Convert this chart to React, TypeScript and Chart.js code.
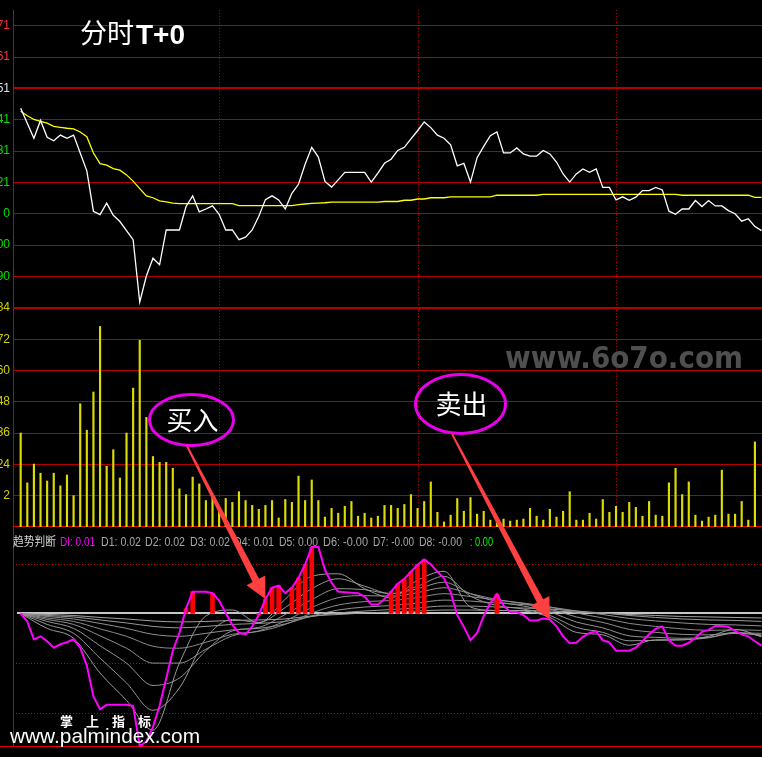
import React, { useEffect, useRef } from 'react';
import { Chart, registerables } from 'chart.js';

Chart.register(...registerables);

// ---------- axis labels ----------
const priceTicks = [7.71, 7.61, 7.51, 7.41, 7.31, 7.21, 7.11, 7.01, 6.91];
const priceTickLabels = ['71', '61', '51', '41', '31', '21', '0', '00', '90'];
const priceTickColors = ['#ff3232', '#ff3232', '#e0e0e0', '#00e000', '#00e000', '#00e000', '#00e000', '#00e000', '#00e000'];
const prevClose = 7.51;
const volumeTicks = [84, 72, 60, 48, 36, 24, 12];
const volumeTickLabels = ['84', '72', '60', '48', '36', '24', '2'];
const diGridLevels = [0.1, -0.1, -0.2];
const hourMarks = [30, 60, 90];

// ---------- price panel (one point per 2-minute step) ----------
const price = [
  7.447, 7.399, 7.351, 7.408, 7.354, 7.343, 7.361, 7.351, 7.361, 7.304,
  7.247, 7.118, 7.107, 7.144, 7.105, 7.085, 7.056, 7.027, 6.828, 6.911,
  6.968, 6.947, 7.058, 7.058, 7.058, 7.133, 7.167, 7.116, 7.125, 7.135,
  7.108, 7.058, 7.058, 7.027, 7.035, 7.058, 7.102, 7.155, 7.167, 7.154,
  7.125, 7.175, 7.204, 7.268, 7.322, 7.291, 7.213, 7.195, 7.218, 7.242,
  7.242, 7.242, 7.242, 7.211, 7.240, 7.271, 7.284, 7.312, 7.322, 7.349,
  7.375, 7.403, 7.385, 7.361, 7.351, 7.330, 7.263, 7.271, 7.211, 7.289,
  7.325, 7.359, 7.371, 7.304, 7.304, 7.320, 7.301, 7.294, 7.294, 7.312,
  7.301, 7.275, 7.237, 7.211, 7.237, 7.253, 7.242, 7.253, 7.194, 7.194,
  7.154, 7.164, 7.153, 7.163, 7.184, 7.184, 7.194, 7.186, 7.118, 7.108,
  7.125, 7.125, 7.152, 7.133, 7.152, 7.135, 7.135, 7.120, 7.110, 7.086,
  7.094, 7.069, 7.056,
];
const avgPrice = [
  7.437, 7.423, 7.411, 7.405, 7.399, 7.389, 7.386, 7.383, 7.381, 7.371,
  7.356, 7.304, 7.270, 7.265, 7.254, 7.249, 7.234, 7.214, 7.190, 7.167,
  7.161, 7.151, 7.148, 7.144, 7.142, 7.142, 7.142, 7.142, 7.142, 7.142,
  7.142, 7.142, 7.142, 7.136, 7.136, 7.136, 7.136, 7.136, 7.136, 7.136,
  7.136, 7.136, 7.139, 7.141, 7.143, 7.144, 7.145, 7.147, 7.147, 7.147,
  7.147, 7.147, 7.147, 7.147, 7.147, 7.149, 7.149, 7.149, 7.153, 7.153,
  7.157, 7.157, 7.161, 7.161, 7.161, 7.164, 7.164, 7.164, 7.164, 7.164,
  7.164, 7.164, 7.169, 7.169, 7.169, 7.169, 7.169, 7.169, 7.169, 7.172,
  7.172, 7.172, 7.172, 7.172, 7.172, 7.172, 7.172, 7.172, 7.172, 7.172,
  7.172, 7.172, 7.172, 7.172, 7.172, 7.172, 7.172, 7.172, 7.172, 7.172,
  7.169, 7.169, 7.169, 7.169, 7.169, 7.169, 7.169, 7.169, 7.169, 7.169,
  7.169, 7.162, 7.162,
];

// ---------- volume panel ----------
const volume = [
  36, 16.9, 24.1, 20.6, 17.6, 20.6, 15.75, 19.9, 12, 47.25,
  37.1, 51.75, 76.9, 23.25, 29.6, 18.75, 36, 53.25, 71.6, 42,
  27, 24.75, 24.75, 22.5, 14.6, 12.4, 19.1, 16.5, 10.1, 11.6,
  7.1, 10.9, 9.4, 13.5, 10.1, 8.25, 6.75, 8.25, 10.1, 3.4,
  10.5, 9.4, 19.5, 10.1, 18, 10.1, 3.75, 7.1, 5.25, 7.9,
  9.75, 4.1, 5.25, 3.4, 4.1, 8.25, 8.25, 7.1, 8.6, 12.4,
  7.1, 9.75, 17.25, 5.6, 1.9, 4.5, 10.9, 6, 11.25, 4.9,
  6, 2.6, 3.75, 3, 2.25, 2.6, 3, 7.1, 4.1, 2.6,
  6.75, 3.75, 6, 13.5, 2.6, 2.6, 5.25, 3, 10.5, 5.6,
  7.9, 5.6, 9.4, 7.5, 4.1, 9.75, 4.5, 4.1, 16.9, 22.5,
  12.4, 17.25, 4.5, 2.25, 3.75, 4.5, 21.75, 4.9, 4.9, 9.75,
  2.6, 32.6,
];

// ---------- trend indicator panel ----------
const di = [
  0, -0.016, -0.052, -0.046, -0.056, -0.069, -0.062, -0.058, -0.052, -0.069,
  -0.105, -0.167, -0.193, -0.184, -0.184, -0.184, -0.184, -0.186, -0.267, -0.258,
  -0.229, -0.186, -0.131, -0.075, -0.039, 0.010, 0.044, 0.044, 0.044, 0.041,
  0.026, 0.001, -0.023, -0.039, -0.042, -0.026, -0.003, 0.029, 0.052, 0.056,
  0.041, 0.052, 0.072, 0.099, 0.134, 0.134, 0.088, 0.062, 0.044, 0.043,
  0.042, 0.041, 0.034, 0.018, 0.018, 0.029, 0.044, 0.060, 0.070, 0.084,
  0.098, 0.109, 0.099, 0.084, 0.071, 0.043, -0.003, -0.027, -0.054, -0.039,
  -0.005, 0.021, 0.039, 0.016, 0.003, 0.003, -0.003, -0.014, -0.014, -0.010,
  -0.012, -0.026, -0.046, -0.060, -0.059, -0.047, -0.039, -0.036, -0.054, -0.058,
  -0.075, -0.075, -0.075, -0.069, -0.056, -0.042, -0.031, -0.026, -0.054, -0.065,
  -0.065, -0.059, -0.049, -0.037, -0.033, -0.025, -0.025, -0.027, -0.035, -0.042,
  -0.046, -0.056, -0.065,
];
const signalIndex = [25, 26, 29, 36, 37, 38, 39, 41, 42, 43, 44, 56, 57, 58, 59, 60, 61, 72];

const dSampleIndex = [0, 4, 8, 12, 16, 20, 24, 28, 32, 36, 40, 44, 48, 52, 56, 60, 64, 68, 72, 76, 80, 84, 88, 92, 96, 100, 104, 108, 112];
const d1 = [0, -0.03, -0.05, -0.12, -0.175, -0.235, -0.1, -0.005, 0.007, -0.019, 0.029, 0.075, 0.08, 0.05, 0.032, 0.067, 0.085, 0.013, 0.006, 0.005, -0.008, -0.038, -0.043, -0.064, -0.053, -0.053, -0.046, -0.032, -0.047];
const d2 = [0, -0.022, -0.04, -0.09, -0.14, -0.195, -0.15, -0.05, -0.012, -0.018, 0.012, 0.05, 0.07, 0.055, 0.04, 0.055, 0.075, 0.035, 0.016, 0.009, -0.004, -0.028, -0.038, -0.055, -0.054, -0.053, -0.049, -0.038, -0.045];
const d3 = [0, -0.016, -0.03, -0.065, -0.1, -0.145, -0.13, -0.075, -0.035, -0.028, -0.002, 0.028, 0.05, 0.048, 0.04, 0.05, 0.063, 0.04, 0.024, 0.015, 0.003, -0.017, -0.029, -0.045, -0.048, -0.05, -0.048, -0.04, -0.043];
const d4 = [0, -0.012, -0.022, -0.045, -0.07, -0.1, -0.1, -0.072, -0.045, -0.035, -0.015, 0.012, 0.032, 0.036, 0.035, 0.042, 0.052, 0.04, 0.028, 0.02, 0.009, -0.007, -0.018, -0.032, -0.038, -0.042, -0.043, -0.039, -0.04];
const d5 = [0, -0.009, -0.016, -0.031, -0.046, -0.066, -0.07, -0.058, -0.042, -0.036, -0.022, 0.001, 0.017, 0.024, 0.026, 0.032, 0.04, 0.034, 0.027, 0.021, 0.013, 0.001, -0.009, -0.02, -0.026, -0.031, -0.034, -0.033, -0.034];
const d6 = [0, -0.006, -0.011, -0.02, -0.03, -0.042, -0.046, -0.04, -0.033, -0.03, -0.021, -0.005, 0.007, 0.013, 0.016, 0.021, 0.027, 0.025, 0.021, 0.018, 0.013, 0.005, -0.002, -0.01, -0.015, -0.019, -0.022, -0.023, -0.025];
const d7 = [0, -0.004, -0.007, -0.013, -0.019, -0.026, -0.029, -0.026, -0.022, -0.02, -0.016, -0.006, 0.001, 0.005, 0.008, 0.011, 0.015, 0.015, 0.013, 0.011, 0.009, 0.005, 0.001, -0.004, -0.008, -0.011, -0.013, -0.014, -0.016];
const d8 = [0, -0.002, -0.004, -0.008, -0.011, -0.015, -0.017, -0.016, -0.014, -0.013, -0.011, -0.005, -0.002, 0.001, 0.003, 0.005, 0.007, 0.007, 0.006, 0.006, 0.005, 0.003, 0.001, -0.002, -0.004, -0.006, -0.007, -0.008, -0.009];
const dLines = [d1, d2, d3, d4, d5, d6, d7, d8];
const dColors = ['#9a9a9a', '#969696', '#929292', '#8e8e8e', '#8a8a8a', '#909090', '#989898', '#a0a0a0'];

// ---------- texts ----------
const titleCn = '分时';
const titleEn = 'T+0';
const watermark = 'www.6o7o.com';
const legendTexts = ['趋势判断', 'DI: 0.01', 'D1: 0.02', 'D2: 0.02', 'D3: 0.02', 'D4: 0.01', 'D5: 0.00', 'D6: -0.00', 'D7: -0.00', 'D8: -0.00', ': 0.00'];
const legendColors = ['#d8d8d8', '#ff00ff', '#a8a8a8', '#a8a8a8', '#a8a8a8', '#a8a8a8', '#a8a8a8', '#a8a8a8', '#a8a8a8', '#a8a8a8', '#00ff00'];
const legendX = [13, 60, 101, 145, 190, 234, 279, 323, 373, 419, 470];
const legendW = [43, 35, 40, 40, 40, 40, 39, 45, 41, 43, 23];
const brandChars = ['掌', '上', '指', '标'];
const brandUrl = 'www.palmindex.com';
// annotation callouts: label, ellipse centre / radii (px), index on the DI line the arrow points to
const callouts = [
  { label: '买入', cx: 191.5, cy: 420, rx: 42, ry: 25.5, tail: -4.5, pointIndex: 37 },
  { label: '卖出', cx: 460.5, cy: 404, rx: 45, ry: 29.5, tail: -8.5, pointIndex: 80 },
];

const X_MIN = -1.16;
const X_MAX = 112.07;

function drawArrow(ctx: CanvasRenderingContext2D, sx: number, sy: number, tx: number, ty: number) {
  const dx = tx - sx;
  const dy = ty - sy;
  const len = Math.hypot(dx, dy);
  const ux = dx / len;
  const uy = dy / len;
  const nx = -uy;
  const ny = ux;
  const headLen = 21;
  const headHalf = 10.5;
  const w0 = 0.9;
  const w1 = 3.6;
  const bx = tx - ux * headLen;
  const by = ty - uy * headLen;
  ctx.fillStyle = '#ff4040';
  ctx.beginPath();
  ctx.moveTo(sx + nx * w0, sy + ny * w0);
  ctx.lineTo(bx + nx * w1, by + ny * w1);
  ctx.lineTo(bx + nx * headHalf, by + ny * headHalf);
  ctx.lineTo(tx, ty);
  ctx.lineTo(bx - nx * headHalf, by - ny * headHalf);
  ctx.lineTo(bx - nx * w1, by - ny * w1);
  ctx.lineTo(sx - nx * w0, sy - ny * w0);
  ctx.closePath();
  ctx.fill();
}

const panelPlugin = {
  id: 'panels',
  beforeDatasetsDraw(chart: any) {
    const { ctx, chartArea, scales } = chart;
    const x = scales.x;
    const yP = scales.yP;
    const yV = scales.yV;
    const yD = scales.yD;
    ctx.save();
    ctx.lineWidth = 1;
    ctx.strokeStyle = '#c80000';
    ctx.setLineDash([1, 2]);
    hourMarks.forEach((m) => {
      const px = Math.round(x.getPixelForValue(m)) + 0.5;
      ctx.beginPath();
      ctx.moveTo(px, yP.top);
      ctx.lineTo(px, yV.bottom);
      ctx.stroke();
    });
    diGridLevels.forEach((v) => {
      const py = Math.round(yD.getPixelForValue(v)) + 0.5;
      ctx.beginPath();
      ctx.moveTo(chartArea.left, py);
      ctx.lineTo(chartArea.right, py);
      ctx.stroke();
    });
    ctx.setLineDash([]);
    ctx.strokeStyle = '#e00000';
    const sep = Math.round(yV.bottom) - 0.5;
    ctx.beginPath();
    ctx.moveTo(chartArea.left, sep);
    ctx.lineTo(chartArea.right, sep);
    ctx.stroke();
    const bot = Math.round(chartArea.bottom) - 0.5;
    ctx.beginPath();
    ctx.moveTo(0, bot);
    ctx.lineTo(chartArea.right, bot);
    ctx.stroke();
    const z = Math.round(yD.getPixelForValue(0));
    ctx.strokeStyle = '#c8c8c8';
    ctx.lineWidth = 2;
    ctx.beginPath();
    ctx.moveTo(chartArea.left + 4, z);
    ctx.lineTo(chartArea.right, z);
    ctx.stroke();
    ctx.restore();
  },
  afterDatasetsDraw(chart: any) {
    const { ctx, scales } = chart;
    const x = scales.x;
    const yD = scales.yD;
    ctx.save();
    // title
    ctx.fillStyle = '#ffffff';
    ctx.textBaseline = 'alphabetic';
    ctx.textAlign = 'left';
    ctx.font = '27px "Noto Sans CJK SC"';
    ctx.fillText(titleCn, 80, 43, 56);
    ctx.font = 'bold 28px "Liberation Sans"';
    ctx.fillText(titleEn, 136, 43.5, 53);
    // watermark
    ctx.fillStyle = '#4f4f4f';
    ctx.font = 'bold 30px "DejaVu Sans"';
    ctx.fillText(watermark, 505, 368, 238);
    // legend of indicator panel
    ctx.font = '12px "Liberation Sans", "Noto Sans CJK SC"';
    legendTexts.forEach((t, k) => {
      ctx.fillStyle = legendColors[k];
      ctx.fillText(t, legendX[k], 545.5, legendW[k]);
    });
    // callouts
    callouts.forEach((c) => {
      ctx.strokeStyle = '#e800e8';
      ctx.lineWidth = 3;
      ctx.beginPath();
      ctx.ellipse(c.cx, c.cy, c.rx, c.ry, 0, 0, Math.PI * 2);
      ctx.stroke();
      ctx.fillStyle = '#ffffff';
      ctx.font = '26px "Noto Sans CJK SC"';
      ctx.textAlign = 'center';
      ctx.textBaseline = 'middle';
      ctx.fillText(c.label, c.cx + 1, c.cy + 0.5);
      const tx = x.getPixelForValue(c.pointIndex);
      const ty = yD.getPixelForValue(di[c.pointIndex]);
      drawArrow(ctx, c.cx + c.tail, c.cy + c.ry + 0.5, tx, ty);
    });
    // bottom brand
    ctx.textAlign = 'left';
    ctx.textBaseline = 'middle';
    ctx.fillStyle = '#ffffff';
    ctx.font = 'bold 13px "Noto Sans CJK SC"';
    brandChars.forEach((ch, k) => {
      ctx.fillText(ch, 60 + k * 26, 721);
    });
    ctx.textBaseline = 'alphabetic';
    ctx.font = '21px "Liberation Sans"';
    ctx.fillText(brandUrl, 10, 743, 190);
    ctx.restore();
  },
};

const fixWidth = (scale: any) => {
  scale.width = 13;
};

export default function App() {
  const ref = useRef<HTMLCanvasElement>(null);
  useEffect(() => {
    const canvas = ref.current;
    if (!canvas) return;
    const pts = (arr: number[]) => arr.map((v, i) => ({ x: i, y: v }));
    const datasets: any[] = [
      {
        type: 'line', label: 'DI', data: pts(di), yAxisID: 'yD',
        borderColor: '#ff00ff', borderWidth: 2, pointRadius: 0, order: 1,
      },
      {
        type: 'bar', label: 'signal', data: signalIndex.map((i) => ({ x: i, y: di[i] })), yAxisID: 'yD',
        backgroundColor: '#ff0000', barThickness: 4, grouped: false, order: 2,
      },
      ...dLines.map((d, k) => ({
        type: 'line', label: 'D' + (k + 1), data: dSampleIndex.map((i, j) => ({ x: i, y: d[j] })), yAxisID: 'yD',
        borderColor: dColors[k], borderWidth: 1, pointRadius: 0, cubicInterpolationMode: 'monotone', order: 3,
      })),
      {
        type: 'line', label: 'price', data: pts(price), yAxisID: 'yP',
        borderColor: '#ffffff', borderWidth: 1.3, pointRadius: 0, order: 1,
      },
      {
        type: 'line', label: 'avg', data: pts(avgPrice), yAxisID: 'yP',
        borderColor: '#ffff00', borderWidth: 1.3, pointRadius: 0, order: 2,
      },
      {
        type: 'bar', label: 'volume', data: pts(volume), yAxisID: 'yV',
        backgroundColor: '#dcdc00', barThickness: 1.5, grouped: false, order: 3,
      },
    ];
    const chart = new Chart(canvas, {
      type: 'line',
      data: { datasets },
      plugins: [panelPlugin],
      options: {
        animation: false,
        responsive: false,
        maintainAspectRatio: false,
        devicePixelRatio: 1,
        layout: { padding: 0 },
        plugins: { legend: { display: false }, tooltip: { enabled: false } },
        scales: {
          x: {
            type: 'linear', min: X_MIN, max: X_MAX, display: false,
            offset: false, bounds: 'data', grace: 0,
            grid: { offset: false },
          },
          yP: {
            type: 'linear', position: 'left', stack: 'main', stackWeight: 306, weight: 3,
            min: 6.809, max: 7.760,
            afterBuildTicks: (s: any) => { s.ticks = priceTicks.map((v) => ({ value: v })); },
            afterFit: fixWidth,
            ticks: {
              autoSkip: false, padding: 3,
              font: { family: 'Liberation Sans', size: 12 },
              color: (c: any) => priceTickColors[c.index] || '#00e000',
              callback: (_v: any, i: number) => priceTickLabels[i],
            },
            grid: {
              drawTicks: false, color: '#b40000',
              lineWidth: (c: any) => (c.tick && Math.abs(c.tick.value - prevClose) < 1e-6 ? 2 : 1),
            },
            border: { display: true, color: '#c80000', width: 1 },
          },
          yV: {
            type: 'linear', position: 'left', stack: 'main', stackWeight: 225, weight: 2,
            min: 0, max: 84,
            afterBuildTicks: (s: any) => { s.ticks = volumeTicks.map((v) => ({ value: v })); },
            afterFit: fixWidth,
            ticks: {
              autoSkip: false, padding: 3,
              font: { family: 'Liberation Sans', size: 12 },
              color: '#d2d200',
              callback: (_v: any, i: number) => volumeTickLabels[i],
            },
            grid: {
              drawTicks: false, color: '#b40000',
              lineWidth: (c: any) => (c.index === 0 ? 2 : 1),
            },
            border: { display: true, color: '#c80000', width: 1 },
          },
          yD: {
            type: 'linear', position: 'left', stack: 'main', stackWeight: 226, weight: 1,
            min: -0.2686, max: 0.1745,
            afterFit: fixWidth,
            ticks: { display: false },
            grid: { display: false, drawTicks: false },
            border: { display: true, color: '#c80000', width: 1 },
          },
        },
      } as any,
    });
    return () => chart.destroy();
  }, []);
  return (
    <div style={{ position: 'fixed', left: 0, top: 0, width: 762, height: 757, background: '#000', overflow: 'hidden' }}>
      <canvas ref={ref} width={762} height={757} style={{ display: 'block', width: '762px', height: '757px' }} />
    </div>
  );
}
